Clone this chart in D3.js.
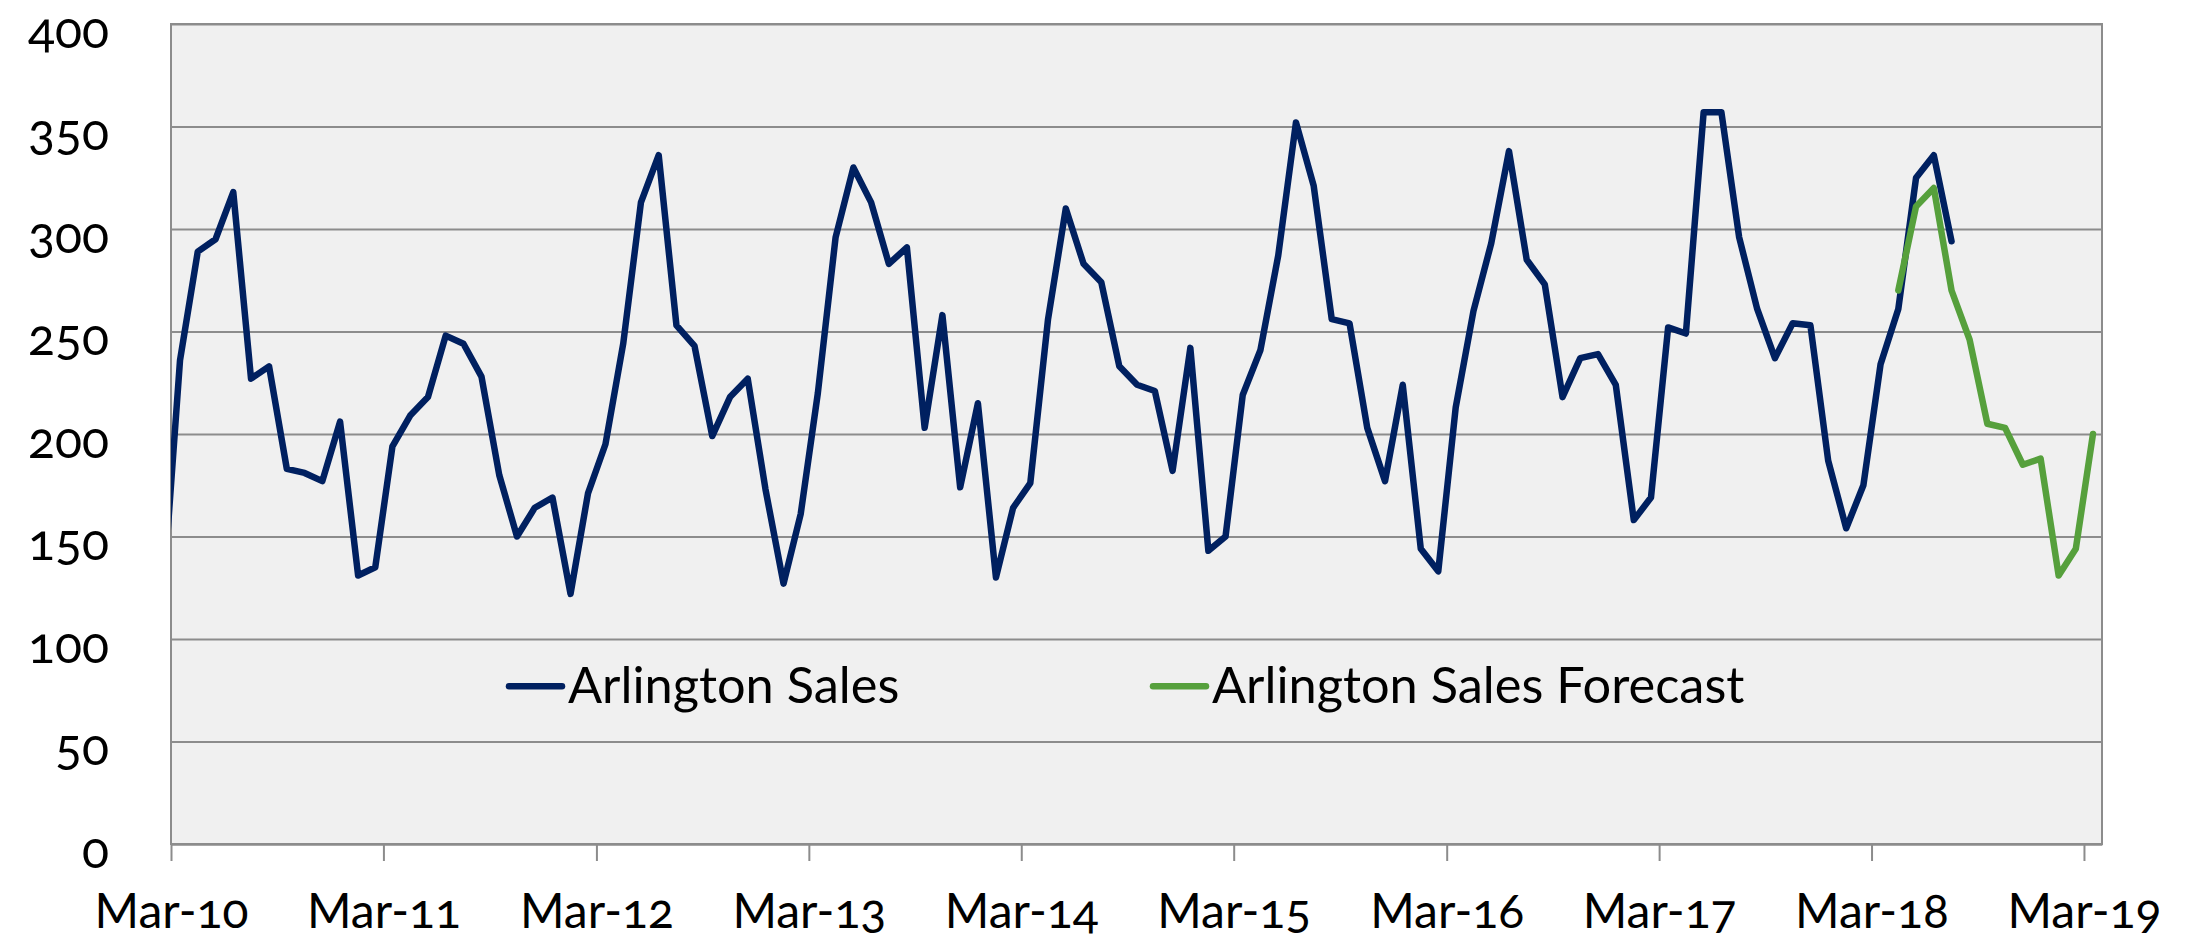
<!DOCTYPE html>
<html>
<head>
<meta charset="utf-8">
<script src="https://cdn.jsdelivr.net/npm/d3@7"></script>
<style>
  html, body { margin: 0; padding: 0; background: #fff; }
  svg text { font-family: Lato, "Open Sans", sans-serif; font-variant-numeric: oldstyle-nums; fill: #000; }
</style>
</head>
<body>
<svg id="chart"></svg>
<script>
// monthly sales, first value is Feb-10 (clipped at the left edge)
const actualStart = "2010-02";
const actualSales = [
  120, 236, 289, 295, 318, 227, 233, 183, 181, 177, 206, 131, 135,
  194, 209, 218, 248, 244, 228, 180, 150, 164, 169, 122, 171,
  195, 244, 313, 336, 253, 243, 199, 218, 227, 173, 127, 161,
  220, 296, 330, 313, 283, 291, 203, 258, 174, 215, 130, 164,
  176, 256, 310, 283, 274, 233, 224, 221, 182, 242, 143, 150,
  219, 241, 287, 352, 321, 256, 254, 203, 177, 224, 144, 133,
  213, 260, 293, 338, 285, 273, 218, 237, 239, 224, 158, 169,
  252, 249, 357, 357, 296, 261, 237, 254, 253, 187, 154, 175,
  234, 261, 325, 336, 294
];

const forecastStart = "2018-04";
const forecastSales = [270, 311, 320, 270, 246, 205, 203, 185, 188, 131, 144, 200];

const seriesNames = ["Arlington Sales", "Arlington Sales Forecast"];
const seriesColors = ["#002060", "#56A03C"];

const xTickMonths = ["2010-03", "2011-03", "2012-03", "2013-03", "2014-03",
                     "2015-03", "2016-03", "2017-03", "2018-03", "2019-03"];
const xDomain = ["2010-03", "2019-04"];
const yTicks = [0, 50, 100, 150, 200, 250, 300, 350, 400];

const WIDTH = 2197;
const HEIGHT = 942;
const PADDING = { TOP: 24, RIGHT: 95, BOTTOM: 98, LEFT: 171 };

const parseMonth = d3.timeParse("%Y-%m");
const fmtMonth = d3.timeFormat("%b-%y");

// points sit in the middle of their month
function monthSeries(start, values) {
  let first = parseMonth(start);
  return values.map((v, i) => {
    let m = d3.timeMonth.offset(first, i);
    let next = d3.timeMonth.offset(m, 1);
    return { date: new Date((+m + +next) / 2), value: v };
  });
}

const actual = monthSeries(actualStart, actualSales);
const forecast = monthSeries(forecastStart, forecastSales);

let svg = d3.select("#chart")
  .attr("width", WIDTH)
  .attr("height", HEIGHT);

let xScale = d3.scaleTime()
  .domain(xDomain.map(parseMonth))
  .range([PADDING.LEFT, WIDTH - PADDING.RIGHT]);
let yScale = d3.scaleLinear()
  .domain([0, 400])
  .range([HEIGHT - PADDING.BOTTOM, PADDING.TOP]);

const plotW = WIDTH - PADDING.LEFT - PADDING.RIGHT;
const plotH = HEIGHT - PADDING.TOP - PADDING.BOTTOM;

svg.append("defs").append("clipPath")
  .attr("id", "plot-clip")
  .append("rect")
    .attr("x", PADDING.LEFT)
    .attr("y", PADDING.TOP)
    .attr("width", plotW)
    .attr("height", plotH);

// plot background
svg.append("rect")
  .attr("x", PADDING.LEFT)
  .attr("y", PADDING.TOP)
  .attr("width", plotW)
  .attr("height", plotH)
  .attr("fill", "#F0F0F0");

// gridlines + y labels
svg.append("g")
  .attr("transform", `translate(${PADDING.LEFT},0)`)
  .call(d3.axisLeft(yScale).tickValues(yTicks).tickSize(-plotW).tickPadding(62))
  .call(g => g.select(".domain").remove())
  .call(g => g.selectAll(".tick line").attr("stroke", "#8C8C8C").attr("stroke-width", 2))
  .call(g => g.selectAll(".tick text")
    .attr("font-size", 50)
    .attr("dy", "0.46em"));

// plot border (top + right)
svg.append("rect")
  .attr("x", PADDING.LEFT)
  .attr("y", PADDING.TOP)
  .attr("width", plotW)
  .attr("height", plotH)
  .attr("fill", "none")
  .attr("stroke", "#8C8C8C")
  .attr("stroke-width", 2);

// x axis
svg.append("g")
  .attr("transform", `translate(0,${HEIGHT - PADDING.BOTTOM})`)
  .call(d3.axisBottom(xScale)
    .tickValues(xTickMonths.map(parseMonth))
    .tickFormat(fmtMonth)
    .tickSize(17)
    .tickSizeOuter(0)
    .tickPadding(33))
  .call(g => g.select(".domain").attr("stroke", "#8C8C8C").attr("stroke-width", 2))
  .call(g => g.selectAll(".tick line").attr("stroke", "#8C8C8C").attr("stroke-width", 2))
  .call(g => g.selectAll(".tick text").attr("font-size", 48));

// y axis line
svg.append("line")
  .attr("x1", PADDING.LEFT).attr("x2", PADDING.LEFT)
  .attr("y1", PADDING.TOP).attr("y2", HEIGHT - PADDING.BOTTOM)
  .attr("stroke", "#8C8C8C")
  .attr("stroke-width", 2);

let line = d3.line()
  .x(d => xScale(d.date))
  .y(d => yScale(d.value));

let lines = svg.append("g").attr("clip-path", "url(#plot-clip)");

[actual, forecast].forEach((data, i) => {
  lines.append("path")
    .datum(data)
    .attr("d", line)
    .attr("fill", "none")
    .attr("stroke", seriesColors[i])
    .attr("stroke-width", 6.5)
    .attr("stroke-linejoin", "round")
    .attr("stroke-linecap", "round");
});

// legend
const legendY = yScale(77);
const legendX = [509, 1153];

let legend = svg.append("g");
seriesNames.forEach((name, i) => {
  let item = legend.append("g").attr("transform", `translate(${legendX[i]},${legendY})`);
  item.append("line")
    .attr("x1", 0).attr("x2", 53)
    .attr("stroke", seriesColors[i])
    .attr("stroke-width", 6.5)
    .attr("stroke-linecap", "round");
  item.append("text")
    .attr("x", 59)
    .attr("dy", "0.33em")
    .attr("font-size", 50.5)
    .text(name);
});
</script>
</body>
</html>
